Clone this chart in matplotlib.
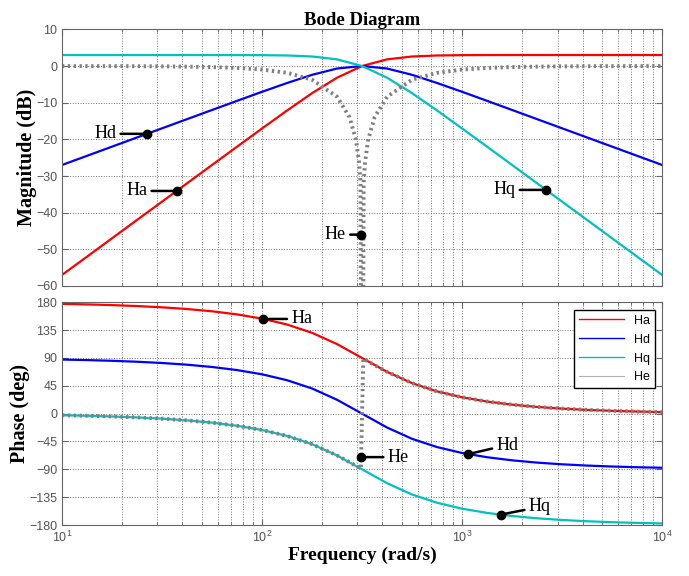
"""Bode diagram of the four second-order sections Ha, Hd, Hq, He."""
import matplotlib

matplotlib.use("Agg")
import matplotlib.pyplot as plt
from matplotlib.lines import Line2D
from matplotlib.ticker import LogLocator, NullFormatter
import numpy as np

# ---- data (rad/s, dB, deg) ----
freq = [10, 13.34, 17.78, 23.71, 31.62, 42.17, 56.23, 74.99, 100, 133.4, 177.8, 237.1,
        316.2, 421.7, 562.3, 749.9, 1000, 1334, 1778, 2371, 3162, 4217, 5623, 7499, 10000]

ha_mag = [-56.99, -51.99, -46.99, -41.99, -36.99, -31.99, -26.99, -22.00, -17.03, -12.13,
          -7.40, -3.18, 0.00, 1.82, 2.60, 2.88, 2.97, 3.00, 3.01, 3.01, 3.01, 3.01, 3.01,
          3.01, 3.01]
hd_mag = [-26.99, -24.49, -21.99, -19.49, -16.99, -14.49, -11.99, -9.50, -7.03, -4.63,
          -2.40, -0.68, 0.00, -0.68, -2.40, -4.63, -7.03, -9.50, -11.99, -14.49, -16.99,
          -19.49, -21.99, -24.49, -26.99]
hq_mag = [3.01, 3.01, 3.01, 3.01, 3.01, 3.01, 3.01, 3.00, 2.97, 2.88, 2.60, 1.82, 0.00,
          -3.18, -7.40, -12.13, -17.03, -22.00, -26.99, -31.99, -36.99, -41.99, -46.99,
          -51.99, -56.99]

ha_phase = [177.44, 176.58, 175.44, 173.91, 171.87, 169.13, 165.44, 160.44, 153.58, 144.04,
            130.69, 112.42, 90.00, 67.58, 49.31, 35.96, 26.42, 19.56, 14.56, 10.87, 8.13,
            6.09, 4.56, 3.42, 2.56]
hd_phase = [87.44, 86.58, 85.44, 83.91, 81.87, 79.13, 75.44, 70.44, 63.58, 54.04, 40.69,
            22.42, 0.00, -22.42, -40.69, -54.04, -63.58, -70.44, -75.44, -79.13, -81.87,
            -83.91, -85.44, -86.58, -87.44]
hq_phase = [-2.56, -3.42, -4.56, -6.09, -8.13, -10.87, -14.56, -19.56, -26.42, -35.96,
            -49.31, -67.58, -90.00, -112.42, -130.69, -144.04, -153.58, -160.44, -165.44,
            -169.13, -171.87, -173.91, -175.44, -176.58, -177.44]

# notch: denser sampling around the centre frequency
he_freq = [10, 13.34, 17.78, 23.71, 31.62, 42.17, 56.23, 74.99, 100, 133.4, 177.8, 237.1,
           273.8, 295.1, 305.5, 310.5, 311.9, 320.6, 322.1, 327.3, 338.8, 365.2,
           421.7, 562.3, 749.9, 1000, 1334, 1778, 2371, 3162, 4217, 5623, 7499, 10000]
he_mag = [-0.01, -0.02, -0.03, -0.05, -0.09, -0.16, -0.28, -0.52, -0.96, -1.84, -3.72, -8.37,
          -13.98, -20.24, -26.24, -31.7, -65, -65, -31.7, -26.24, -20.24, -13.98,
          -8.37, -3.72, -1.84, -0.96, -0.52, -0.28, -0.16, -0.09, -0.05, -0.03, -0.02, -0.01]
he_phase = [-2.56, -3.42, -4.56, -6.09, -8.13, -10.87, -14.56, -19.56, -26.42, -35.96,
            -49.31, -67.58, -78.46, -84.42, -87.20, -88.51, -88.88, 88.88, 88.51, 87.20,
            84.42, 78.46, 67.58, 49.31, 35.96, 26.42, 19.56, 14.56, 10.87, 8.13, 6.09, 4.56,
            3.42, 2.56]

labels = ["Ha", "Hd", "Hq", "He"]
colors = {"Ha": "#ff0000", "Hd": "#0000ff", "Hq": "#00c0c0", "He": "#808080"}

SERIF = "Liberation Serif"
SANS = "Liberation Sans"
TICK_GREY = "#555555"


def _style(ax, yticks, ylim):
    ax.set_xscale("log")
    ax.set_xlim(10, 1e4)
    ax.set_ylim(*ylim)
    ax.set_yticks(yticks)
    ax.xaxis.set_minor_locator(LogLocator(base=10, subs=np.arange(2, 10)))
    ax.xaxis.set_minor_formatter(NullFormatter())
    ax.grid(True, which="major", ls=":", color="#777777", lw=0.7)
    ax.grid(True, which="minor", axis="x", ls=":", color="#777777", lw=0.7)
    ax.tick_params(which="both", direction="in", top=True, right=True,
                   labelsize=9, labelcolor=TICK_GREY, color="#666666")
    ax.tick_params(which="major", length=4)
    ax.tick_params(which="minor", length=2)
    for lab in ax.get_xticklabels() + ax.get_yticklabels():
        lab.set_fontfamily(SANS)
    for sp in ax.spines.values():
        sp.set_color("#666666")
        sp.set_linewidth(0.8)


def _note(ax, text, f, xs, ys, offset, ha):
    # dot on the curve, short leader, label
    y = np.interp(np.log10(f), np.log10(xs), ys)
    ax.plot([f], [y], "o", color="k", ms=6, zorder=6)
    ax.annotate(text, xy=(f, y), xytext=offset, textcoords="offset points",
                ha=ha, va="center", fontsize=13, family=SERIF, zorder=6,
                arrowprops=dict(arrowstyle="-", color="k", lw=1.8,
                                shrinkA=1, shrinkB=0))


fig = plt.figure(figsize=(6.89, 5.76), dpi=100)
ax1 = fig.add_axes([0.090, 0.5035, 0.871, 0.4455])
ax2 = fig.add_axes([0.090, 0.0885, 0.871, 0.3867])

# magnitude
ax1.plot(freq, ha_mag, color=colors["Ha"], lw=1.6)
ax1.plot(freq, hd_mag, color=colors["Hd"], lw=1.6)
ax1.plot(freq, hq_mag, color=colors["Hq"], lw=1.6)
ax1.plot(he_freq, he_mag, color=colors["He"], lw=2.8, ls=(0, (0.6, 0.9)))
_style(ax1, np.arange(-60, 11, 10), (-60, 10))
ax1.tick_params(labelbottom=False)
ax1.set_ylabel("Magnitude (dB)", family=SERIF, fontweight="bold", fontsize=14.5, labelpad=-1)
ax1.set_title("Bode Diagram", family=SERIF, fontweight="bold", fontsize=13.5, pad=3)

_note(ax1, "Hd", 26.6, freq, hd_mag, (-22, 0), "right")
_note(ax1, "Ha", 37.4, freq, ha_mag, (-21, 0), "right")
_note(ax1, "He", 311.1, he_freq, he_mag, (-10.5, 0), "right")
_note(ax1, "Hq", 2630, freq, hq_mag, (-22, 0), "right")

# phase
ax2.plot(freq, ha_phase, color=colors["Ha"], lw=1.6)
ax2.plot(freq, hd_phase, color=colors["Hd"], lw=1.6)
ax2.plot(freq, hq_phase, color=colors["Hq"], lw=1.6)
ax2.plot(he_freq, he_phase, color=colors["He"], lw=2.8, ls=(0, (0.6, 0.9)))
_style(ax2, np.arange(-180, 181, 45), (-180, 180))
ax2.set_ylabel("Phase (deg)", family=SERIF, fontweight="bold", fontsize=14.5, labelpad=-1)
ax2.set_xlabel("Frequency (rad/s)", family=SERIF, fontweight="bold", fontsize=14, labelpad=1)

_note(ax2, "Ha", 101.5, freq, ha_phase, (20, 0), "left")
_note(ax2, "He", 312.8, he_freq, he_phase, (19, 0), "left")
_note(ax2, "Hd", 1076, freq, hd_phase, (20, 6.5), "left")
_note(ax2, "Hq", 1561, freq, hq_phase, (20, 5.5), "left")

handles = [Line2D([], [], color=colors[k], lw=1.0 if k != "He" else 0.8,
                  alpha=1.0 if k != "He" else 0.6) for k in labels]
leg = ax2.legend(handles, labels, loc="upper right", fontsize=9, handlelength=3.6,
                 frameon=True, fancybox=False, edgecolor="k", framealpha=1,
                 borderaxespad=0.6, labelspacing=0.55, prop={"family": SANS, "size": 9})
leg.get_frame().set_linewidth(1.0)

fig.savefig("out.png", dpi=100)
